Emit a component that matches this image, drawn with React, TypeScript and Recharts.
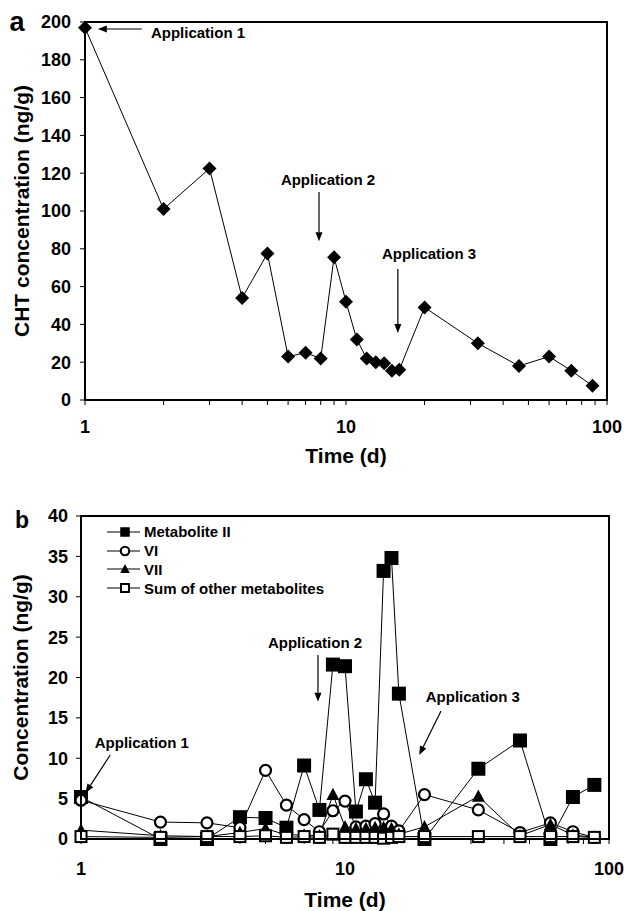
import React from "react";
import {
  LineChart,
  Line,
  XAxis,
  YAxis,
  ReferenceLine,
  ReferenceDot,
  Legend,
} from "recharts";

const FONT = "'Liberation Sans', Arial, Helvetica, sans-serif";

// sampling days (same for both panels)
const days = [1, 2, 3, 4, 5, 6, 7, 8, 9, 10, 11, 12, 13, 14, 15, 16, 20, 32, 46, 60, 73, 88];

// panel a: CHT concentration (ng/g)
const chtConc = [197, 101, 122.5, 54, 77.5, 23, 25, 22, 75.5, 52, 32, 22, 20, 19.5, 15.5, 16, 49, 30, 18, 23, 15.5, 7.5];

// panel b: metabolites (ng/g)
const metII = [5.2, 0, 0, 2.7, 2.6, 1.4, 9.1, 3.6, 21.6, 21.4, 3.4, 7.4, 4.5, 33.2, 34.8, 18, 0, 8.7, 12.2, 0, 5.2, 6.7];
const metVI = [4.8, 2.1, 2.0, 1.4, 8.5, 4.2, 2.4, 0.9, 3.5, 4.7, 1.5, 1.6, 1.9, 3.1, 1.6, 1.0, 5.5, 3.6, 0.8, 2.0, 0.9, 0.2];
const metVII = [1.1, 0.4, 0.3, 0.8, 1.3, 0.5, 0.5, 0.4, 5.5, 1.5, 1.3, 1.3, 1.4, 1.4, 1.3, 0.6, 1.5, 5.3, 0.4, 1.8, 0.5, 0.2];
const otherMets = [0.3, 0.2, 0.3, 0.3, 0.4, 0.2, 0.3, 0.2, 0.6, 0.2, 0.2, 0.2, 0.2, 0.1, 0.2, 0.3, 0.3, 0.3, 0.3, 0.3, 0.3, 0.2];

const seriesKeys = ["ii", "vi", "vii", "other"];
const seriesNames = ["Metabolite II", "VI", "VII", "Sum of other metabolites"];

// axis ticks
const logTicks = [1, 2, 3, 4, 5, 6, 7, 8, 9, 10, 20, 30, 40, 50, 60, 70, 80, 90, 100];
const decadeLabels = [1, 10, 100];
const chtTicks = [0, 20, 40, 60, 80, 100, 120, 140, 160, 180, 200];
const metTicks = [0, 5, 10, 15, 20, 25, 30, 35, 40];

// annotations: arrow start, arrow end, label centre (in day / ng/g units)
const notesA = [
  { text: "Application 1", from: { x: 1.65, y: 196.3 }, to: { x: 1.12, y: 196.3 }, at: { x: 2.71, y: 194.2 } },
  { text: "Application 2", from: { x: 7.88, y: 110 }, to: { x: 7.88, y: 84 }, at: { x: 8.53, y: 116.4 } },
  { text: "Application 3", from: { x: 15.8, y: 69.3 }, to: { x: 15.8, y: 35.4 }, at: { x: 20.8, y: 77.2 } },
];
const notesB = [
  { text: "Application 1", from: { x: 1.29, y: 10.4 }, to: { x: 1.04, y: 5.7 }, at: { x: 1.7, y: 11.9 } },
  { text: "Application 2", from: { x: 7.9, y: 22.8 }, to: { x: 7.9, y: 17.0 }, at: { x: 7.7, y: 24.3 } },
  { text: "Application 3", from: { x: 23.1, y: 15.85 }, to: { x: 19.1, y: 10.4 }, at: { x: 30.5, y: 17.6 } },
];

const chtData = days.map((t, i) => ({ t, cht: chtConc[i] }));
const metData = days.map((t, i) => ({
  t,
  ii: metII[i],
  vi: metVI[i],
  vii: metVII[i],
  other: otherMets[i],
}));

// plot boxes (page pixels) for the two panels
const W = 624;
const boxA = { top: 0, h: 470, left: 85, right: 607, plotTop: 22, plotBottom: 400, xAxisH: 60 };
const boxB = { top: 460, h: 451, left: 81, right: 609, plotTop: 516, plotBottom: 839, xAxisH: 66 };

const tickStyle = { fill: "#000", fontSize: 18, fontWeight: "bold", fontFamily: FONT };
const noteStyle = { fill: "#000", fontSize: 15, fontWeight: "bold", fontFamily: FONT };
const titleStyle = { fill: "#000", fontSize: 21, fontWeight: "bold", fontFamily: FONT };
const axisLine = { stroke: "#000", strokeWidth: 2 };

type Kind = "diamond" | "square" | "circle" | "triangle" | "openSquare";

const Marker = ({ kind, cx, cy, s }: { kind: Kind; cx: number; cy: number; s: number }) => {
  const h = s / 2;
  switch (kind) {
    case "diamond":
      return <polygon points={`${cx},${cy - h} ${cx + h},${cy} ${cx},${cy + h} ${cx - h},${cy}`} fill="#000" />;
    case "square":
      return <rect x={cx - h} y={cy - h} width={s} height={s} fill="#000" />;
    case "openSquare":
      return <rect x={cx - h} y={cy - h} width={s} height={s} fill="#fff" stroke="#000" strokeWidth={2} />;
    case "circle":
      return <circle cx={cx} cy={cy} r={h} fill="#fff" stroke="#000" strokeWidth={2.2} />;
    case "triangle":
      return (
        <polygon
          points={`${cx},${cy - h * 1.05} ${cx + h},${cy + h * 0.85} ${cx - h},${cy + h * 0.85}`}
          fill="#000"
        />
      );
  }
  return null;
};

const dotOf = (kind: Kind, s: number) => (p: any) => {
  if (p.cx == null || p.cy == null) return <g key={`${kind}-${p.index}`} />;
  return <Marker key={`${kind}-${p.index}`} kind={kind} cx={p.cx} cy={p.cy} s={s} />;
};

const arrowShape = (p: any) => {
  const { x1, y1, x2, y2 } = p;
  const dx = x2 - x1;
  const dy = y2 - y1;
  const len = Math.hypot(dx, dy) || 1;
  const ux = dx / len;
  const uy = dy / len;
  const hl = 9;
  const hw = 3.5;
  const bx = x2 - ux * hl;
  const by = y2 - uy * hl;
  return (
    <g>
      <line x1={x1} y1={y1} x2={bx} y2={by} stroke="#000" strokeWidth={1.2} />
      <polygon points={`${x2},${y2} ${bx - uy * hw},${by + ux * hw} ${bx + uy * hw},${by - ux * hw}`} fill="#000" />
    </g>
  );
};

const yTitle = (text: string, x: number) => (props: any) => {
  const vb = props.viewBox || {};
  const cy = vb.y + vb.height / 2;
  return (
    <text
      x={x}
      y={cy}
      transform={`rotate(-90, ${x}, ${cy})`}
      textAnchor="middle"
      dominantBaseline="central"
      {...titleStyle}
    >
      {text}
    </text>
  );
};

const legendKinds: Record<string, Kind> = { ii: "square", vi: "circle", vii: "triangle", other: "openSquare" };
const legendSizes: Record<string, number> = { ii: 9.5, vi: 8.5, vii: 9.5, other: 8 };

const LegendBox = () => (
  <div style={{ margin: 0, padding: 0 }}>
    {seriesKeys.map((k, i) => (
      <div key={k} style={{ display: "flex", alignItems: "center", height: 18.7 }}>
        <svg width={37} height={18} style={{ display: "block" }}>
          <line x1={0} y1={9} x2={33} y2={9} stroke="#000" strokeWidth={1} />
          <Marker kind={legendKinds[k]} cx={18} cy={9} s={legendSizes[k]} />
        </svg>
        <span style={{ fontFamily: FONT, fontWeight: "bold", fontSize: 15, color: "#000", whiteSpace: "nowrap" }}>
          {seriesNames[i]}
        </span>
      </div>
    ))}
  </div>
);

const xFmt = (v: number) => (decadeLabels.includes(v) ? String(v) : "");

const marginOf = (b: typeof boxA) => ({
  top: b.plotTop - b.top,
  right: W - b.right,
  bottom: b.top + b.h - b.plotBottom - b.xAxisH,
  left: 0,
});

// plot-area border, centred on the plot edges so it sits on top of the axis lines
const FrameBox = ({ b }: { b: typeof boxA }) => (
  <div
    style={{
      position: "absolute",
      left: b.left - 1,
      top: b.plotTop - 1,
      width: b.right - b.left - 2,
      height: b.plotBottom - b.plotTop - 2,
      border: "2px solid #000",
      boxSizing: "content-box",
      pointerEvents: "none",
      zIndex: 5,
    }}
  />
);

export default function App() {
  return (
    <div style={{ position: "absolute", left: 0, top: 0, width: W, height: 911, background: "#fff" }}>
      <div style={{ position: "absolute", left: 0, top: boxA.top }}>
        <LineChart width={W} height={boxA.h} data={chtData} margin={marginOf(boxA)}>
          <XAxis
            dataKey="t"
            type="number"
            scale="log"
            domain={[1, 100]}
            ticks={logTicks}
            interval={0}
            tickFormatter={xFmt}
            tick={tickStyle}
            tickSize={5}
            tickMargin={15.5}
            axisLine={axisLine}
            tickLine={{ stroke: "#000" }}
            height={boxA.xAxisH}
            label={{ value: "Time (d)", position: "insideBottom", offset: -2.5, ...titleStyle }}
          />
          <YAxis
            type="number"
            domain={[0, 200]}
            ticks={chtTicks}
            interval={0}
            tick={tickStyle}
            tickSize={5}
            tickMargin={9}
            width={boxA.left}
            axisLine={axisLine}
            tickLine={{ stroke: "#000" }}
            label={yTitle("CHT concentration (ng/g)", 21)}
          />
          <Line
            dataKey="cht"
            stroke="#000"
            strokeWidth={1}
            dot={dotOf("diamond", 14)}
            activeDot={false}
            isAnimationActive={false}
          />
          {notesA.map((n) => (
            <ReferenceLine key={n.text + "-l"} segment={[n.from, n.to]} shape={arrowShape} />
          ))}
          {notesA.map((n) => (
            <ReferenceDot
              key={n.text + "-t"}
              x={n.at.x}
              y={n.at.y}
              r={0}
              fill="none"
              stroke="none"
              label={{ value: n.text, position: "center", ...noteStyle }}
            />
          ))}
        </LineChart>
      </div>
      <div style={{ position: "absolute", left: 0, top: boxB.top }}>
        <LineChart width={W} height={boxB.h} data={metData} margin={marginOf(boxB)}>
          <XAxis
            dataKey="t"
            type="number"
            scale="log"
            domain={[1, 100]}
            ticks={logTicks}
            interval={0}
            tickFormatter={xFmt}
            tick={tickStyle}
            tickSize={5}
            tickMargin={18.5}
            axisLine={axisLine}
            tickLine={{ stroke: "#000" }}
            height={boxB.xAxisH}
            label={{ value: "Time (d)", position: "insideBottom", offset: -1.5, ...titleStyle }}
          />
          <YAxis
            type="number"
            domain={[0, 40]}
            ticks={metTicks}
            interval={0}
            tick={tickStyle}
            tickSize={5}
            tickMargin={8}
            width={boxB.left}
            axisLine={axisLine}
            tickLine={{ stroke: "#000" }}
            label={yTitle("Concentration (ng/g)", 20)}
          />
          <Legend
            layout="vertical"
            align="center"
            verticalAlign="middle"
            content={LegendBox}
            wrapperStyle={{ top: 62.6, left: 107, width: "auto", height: "auto" }}
          />
          <Line name={seriesNames[0]} dataKey="ii" stroke="#000" strokeWidth={1} dot={dotOf("square", 14)} activeDot={false} isAnimationActive={false} />
          <Line name={seriesNames[1]} dataKey="vi" stroke="#000" strokeWidth={1} dot={dotOf("circle", 11)} activeDot={false} isAnimationActive={false} />
          <Line name={seriesNames[2]} dataKey="vii" stroke="#000" strokeWidth={1} dot={dotOf("triangle", 13)} activeDot={false} isAnimationActive={false} />
          <Line
            name={seriesNames[3]}
            dataKey="other"
            stroke="#000"
            strokeWidth={1}
            dot={dotOf("openSquare", 11)}
            activeDot={false}
            isAnimationActive={false}
          />
          {notesB.map((n) => (
            <ReferenceLine key={n.text + "-l"} segment={[n.from, n.to]} shape={arrowShape} />
          ))}
          {notesB.map((n) => (
            <ReferenceDot
              key={n.text + "-t"}
              x={n.at.x}
              y={n.at.y}
              r={0}
              fill="none"
              stroke="none"
              label={{ value: n.text, position: "center", ...noteStyle }}
            />
          ))}
        </LineChart>
      </div>
      <FrameBox b={boxA} />
      <FrameBox b={boxB} />
      <svg width={W} height={911} style={{ position: "absolute", left: 0, top: 0, pointerEvents: "none" }}>
        <text x={17} y={31} textAnchor="middle" fontSize={27} fontWeight="bold" fontFamily={FONT} fill="#000">
          a
        </text>
        <text x={22} y={528} textAnchor="middle" fontSize={23} fontWeight="bold" fontFamily={FONT} fill="#000">
          b
        </text>
      </svg>
    </div>
  );
}
